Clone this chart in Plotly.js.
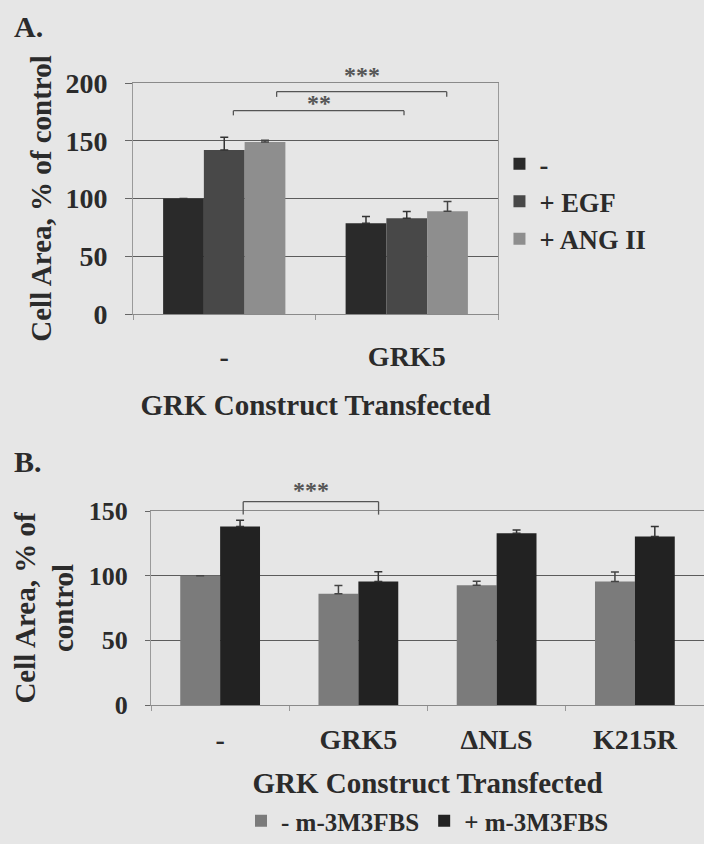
<!DOCTYPE html>
<html>
<head>
<meta charset="utf-8">
<script src="https://cdn.plot.ly/plotly-3.0.1.min.js"></script>
<style>
  html, body { margin: 0; padding: 0; background: #e6e6e6; overflow: hidden; width: 704px; height: 844px; }
  #chartA { position: absolute; left: 0; top: 0; width: 704px; height: 430px; }
  #chartB { position: absolute; left: 0; top: 430px; width: 704px; height: 414px; }
</style>
</head>
<body>
<div id="chartA"></div>
<div id="chartB"></div>
<script>
// ---------- Panel A data ----------
const catsA = ['-', 'GRK5'];
const seriesNamesA = ['-', '+ EGF', '+ ANG II'];
const ctrlA = [100, 78.5];
const ctrlErrA = [0, 6];
const egfA = [142, 82.8];
const egfErrA = [11, 6];
const angA = [149, 89];
const angErrA = [1.5, 8.5];
const ticksA = [0, 50, 100, 150, 200];
const rangeA = [0, 200];
// significance brackets (category position from/to, level, label level)
const bracketsA = [
  { x0: 0.05, x1: 0.985, y: 176, drop: 4, label: '**', ly: 183 },
  { x0: 0.287, x1: 1.219, y: 192.5, drop: 4.5, label: '***', ly: 207 }
];

// ---------- Panel B data ----------
const catsB = ['-', 'GRK5', '\u0394NLS', 'K215R'];
const seriesNamesB = ['- m-3M3FBS', '+ m-3M3FBS'];
const minusB = [100, 86, 92.6, 95.4];
const minusErrB = [0, 6.4, 3, 7.4];
const plusB = [138, 95.4, 132.8, 130.3];
const plusErrB = [4.8, 7.7, 2.6, 7.7];
const ticksB = [0, 50, 100, 150];
const rangeB = [0, 150];
const bracketsB = [
  { x0: 0.167, x1: 1.146, y: 157.2, drop: 10, label: '***', ly: 166 }
];

const FONT = 'Liberation Serif, Times New Roman, serif';
const TXT = '#2b2b2b';
const BG = '#e6e6e6';

function errObj(arr, color) {
  return { type: 'data', symmetric: false, array: arr, arrayminus: arr.map(() => 0),
           color: color, thickness: 1.5, width: 4, visible: true };
}

// brackets use paper y so they can sit above the plotting range
function bracketShapes(list, ymax) {
  const shapes = [];
  list.forEach(b => {
    const line = { color: '#555', width: 1.3 };
    const yTop = b.y / ymax, yLow = (b.y - b.drop) / ymax;
    shapes.push({ type: 'line', xref: 'x', yref: 'paper', x0: b.x0, x1: b.x1, y0: yTop, y1: yTop, line });
    shapes.push({ type: 'line', xref: 'x', yref: 'paper', x0: b.x0, x1: b.x0, y0: yTop, y1: yLow, line });
    shapes.push({ type: 'line', xref: 'x', yref: 'paper', x0: b.x1, x1: b.x1, y0: yTop, y1: yLow, line });
  });
  return shapes;
}
function bracketLabels(list, ymax, size) {
  return list.map(b => ({
    xref: 'x', yref: 'paper', x: (b.x0 + b.x1) / 2, y: b.ly / ymax, text: b.label, showarrow: false,
    font: { family: FONT, size: size, color: '#555', weight: 'bold' }, yanchor: 'middle'
  }));
}

// ---------- Panel A ----------
const colorsA = ['#2a2a2a', '#484848', '#8e8e8e'];
const tracesA = [
  { type: 'bar', x: catsA, y: ctrlA, name: seriesNamesA[0], marker: { color: colorsA[0] }, error_y: errObj(ctrlErrA, '#333') },
  { type: 'bar', x: catsA, y: egfA, name: seriesNamesA[1], marker: { color: colorsA[1] }, error_y: errObj(egfErrA, '#333') },
  { type: 'bar', x: catsA, y: angA, name: seriesNamesA[2], marker: { color: colorsA[2] }, error_y: errObj(angErrA, '#444') }
];
const layoutA = {
  width: 704, height: 430,
  margin: { l: 133, r: 206, t: 83, b: 116 },
  paper_bgcolor: BG, plot_bgcolor: BG,
  font: { family: FONT, color: TXT, weight: 'bold', size: 28 },
  barmode: 'group', bargap: 0.33, bargroupgap: 0,
  showlegend: true,
  legend: { x: 1.004, xanchor: 'left', y: 0.753, yanchor: 'top', bgcolor: 'rgba(0,0,0,0)',
            font: { family: FONT, size: 26.5, color: TXT, weight: 'bold' }, traceorder: 'normal' },
  xaxis: {
    type: 'category', tickson: 'boundaries', ticks: 'outside', ticklen: 5, tickcolor: '#999',
    showline: true, linecolor: '#8a8a8a', linewidth: 1, mirror: true, showgrid: false,
    tickfont: { family: FONT, size: 28, color: TXT, weight: 'bold' }, ticklabelstandoff: 17,
    title: { text: 'GRK Construct Transfected', standoff: 24, font: { family: FONT, size: 29, color: TXT, weight: 'bold' } }
  },
  yaxis: {
    range: rangeA, tickvals: ticksA, ticks: 'outside', ticklen: 7, tickcolor: '#666',
    showgrid: true, gridcolor: '#5c5c5c', gridwidth: 1, zeroline: false,
    showline: true, linecolor: '#9a9a9a', linewidth: 1, mirror: true,
    tickfont: { family: FONT, size: 28, color: TXT, weight: 'bold' }, ticklabelstandoff: 12,
    title: { text: 'Cell Area, % of control', standoff: 5, font: { family: FONT, size: 29, color: TXT, weight: 'bold' } }
  },
  shapes: bracketShapes(bracketsA, rangeA[1]),
  annotations: [
    { xref: 'paper', yref: 'paper', x: -0.332, y: 1.245, xanchor: 'left', yanchor: 'middle', showarrow: false,
      text: 'A.', font: { family: FONT, size: 30, color: TXT, weight: 'bold' } }
  ].concat(bracketLabels(bracketsA, rangeA[1], 24))
};
Plotly.newPlot('chartA', tracesA, layoutA, { displayModeBar: false, staticPlot: true });

// ---------- Panel B ----------
const colorsB = ['#7b7b7b', '#222222'];
const tracesB = [
  { type: 'bar', x: catsB, y: minusB, name: seriesNamesB[0], marker: { color: colorsB[0] }, error_y: errObj(minusErrB, '#444') },
  { type: 'bar', x: catsB, y: plusB, name: seriesNamesB[1], marker: { color: colorsB[1] }, error_y: errObj(plusErrB, '#333') }
];
const layoutB = {
  width: 704, height: 414,
  margin: { l: 151, r: 0, t: 81, b: 137 },
  paper_bgcolor: BG, plot_bgcolor: BG,
  font: { family: FONT, color: TXT, weight: 'bold', size: 26 },
  barmode: 'group', bargap: 0.423, bargroupgap: 0,
  showlegend: true,
  legend: { orientation: 'h', x: 0.5, xanchor: 'center', y: -0.602, yanchor: 'middle', bgcolor: 'rgba(0,0,0,0)',
            font: { family: FONT, size: 25, color: TXT, weight: 'bold' } },
  xaxis: {
    type: 'category', tickson: 'boundaries', ticks: 'outside', ticklen: 5, tickcolor: '#999',
    showline: true, linecolor: '#8a8a8a', linewidth: 1, mirror: true, showgrid: false,
    tickfont: { family: FONT, size: 28, color: TXT, weight: 'bold' }, ticklabelstandoff: 9,
    title: { text: 'GRK Construct Transfected', standoff: 19, font: { family: FONT, size: 29, color: TXT, weight: 'bold' } }
  },
  yaxis: {
    range: rangeB, tickvals: ticksB, ticks: 'outside', ticklen: 5, tickcolor: '#666',
    showgrid: true, gridcolor: '#5c5c5c', gridwidth: 1, zeroline: false,
    showline: true, linecolor: '#9a9a9a', linewidth: 1, mirror: true,
    tickfont: { family: FONT, size: 26, color: TXT, weight: 'bold' }, ticklabelstandoff: 12,
    title: { text: 'Cell Area, % of<br>control', standoff: 6, font: { family: FONT, size: 29, color: TXT, weight: 'bold' } }
  },
  shapes: bracketShapes(bracketsB, rangeB[1]),
  annotations: [
    { xref: 'paper', yref: 'paper', x: -0.252, y: 1.255, xanchor: 'left', yanchor: 'middle', showarrow: false,
      text: 'B.', font: { family: FONT, size: 30, color: TXT, weight: 'bold' } }
  ].concat(bracketLabels(bracketsB, rangeB[1], 24))
};
Plotly.newPlot('chartB', tracesB, layoutB, { displayModeBar: false, staticPlot: true });
</script>
</body>
</html>
